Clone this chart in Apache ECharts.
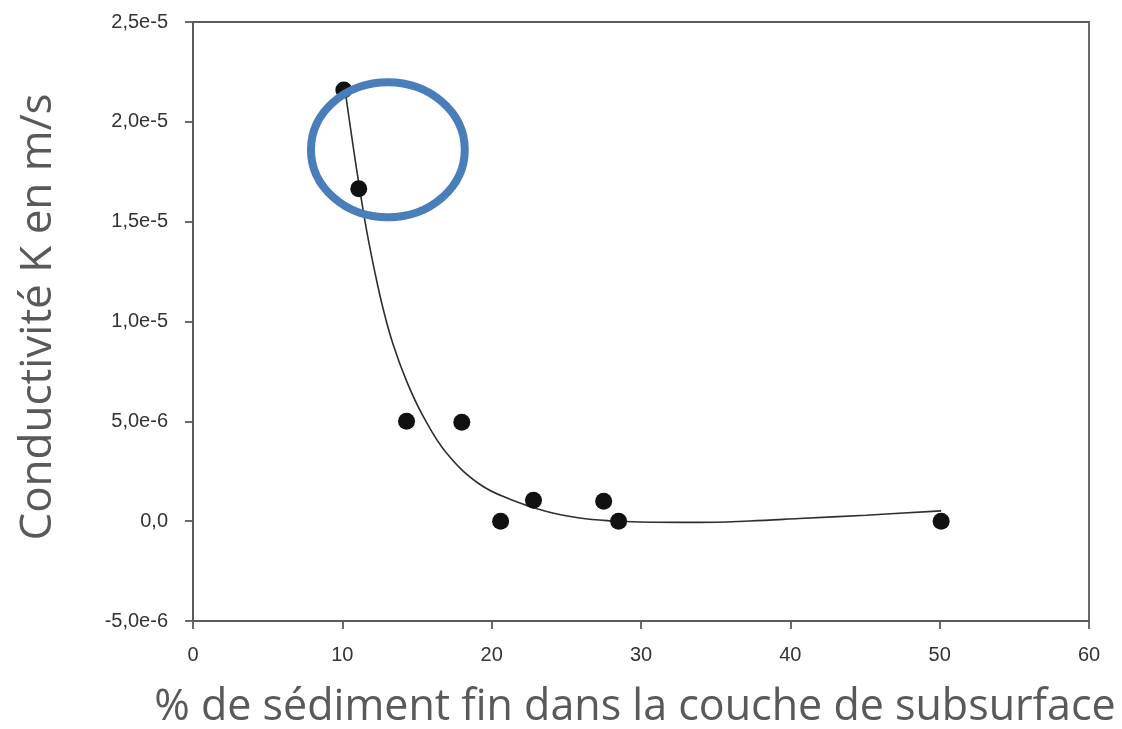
<!DOCTYPE html>
<html>
<head>
<meta charset="utf-8">
<script src="https://cdn.jsdelivr.net/npm/echarts@6/dist/echarts.min.js"></script>
<style>html,body{margin:0;padding:0;background:#fff;}#c{width:1122px;height:729px;}</style>
</head>
<body>
<div id="c"></div>
<script>
// Measured points
var pointsX = [10.1, 11.1, 14.3, 18.0, 20.6, 22.8, 27.5, 28.5, 50.1];
var pointsK = [2.16e-5, 1.665e-5, 5.0e-6, 4.95e-6, 0, 1.05e-6, 1.0e-6, 0, 0];
// Fitted curve
var curveX = [10.17, 10.70, 11.17, 11.64, 12.17, 12.71, 13.38, 14.31, 15.38, 16.99, 19.2, 21.4, 23.68, 25.89, 28.09, 29.9, 33.9, 37.26, 40.6, 45.08, 50.1];
var curveK = [2.165e-5, 1.89e-5, 1.66e-5, 1.45e-5, 1.25e-5, 1.07e-5, 8.9e-6, 7.0e-6, 5.3e-6, 3.4e-6, 1.85e-6, 1.05e-6, 4.8e-7, 1.6e-7, 1e-8, -4e-8, -6e-8, 1e-8, 1.3e-7, 3e-7, 5.15e-7];
// Axis ticks
var xTicks = [0, 10, 20, 30, 40, 50, 60];
var yTickValues = [-5e-6, 0, 5e-6, 1e-5, 1.5e-5, 2e-5, 2.5e-5];
var yTickLabels = ['-5,0e-6', '0,0', '5,0e-6', '1,0e-5', '1,5e-5', '2,0e-5', '2,5e-5'];
var yTitle = 'Conductivité K en m/s';
var xTitle = '% de sédiment fin dans la couche de subsurface';
// Highlight ellipse (data units)
var ellipseCenter = [13.05, 1.86e-5];
var ellipseHalfX = 5.15;
var ellipseHalfY = 3.38e-6;

var chart = echarts.init(document.getElementById('c'));
var axisColor = '#5a5a5a';
function yLabel(v) {
  for (var i = 0; i < yTickValues.length; i++) {
    if (Math.abs(v - yTickValues[i]) < 1e-9) return yTickLabels[i];
  }
  return '';
}
var option = {
  backgroundColor: '#fff',
  animation: false,
  grid: { left: 193, right: 33, top: 22, bottom: 108, show: true, borderColor: axisColor, borderWidth: 1.8 },
  xAxis: {
    type: 'value', min: xTicks[0], max: xTicks[xTicks.length - 1], interval: 10,
    axisLine: { show: true, onZero: false, lineStyle: { color: axisColor, width: 1.8 } },
    axisTick: { show: true, inside: false, length: 8, lineStyle: { color: axisColor, width: 1.8 } },
    axisLabel: { color: '#333', fontSize: 20, fontFamily: 'Liberation Sans, Arial', margin: 24 },
    splitLine: { show: false }
  },
  yAxis: {
    type: 'value', min: -5e-6, max: 2.5e-5, interval: 5e-6,
    axisLine: { show: true, onZero: false, lineStyle: { color: axisColor, width: 1.8 } },
    axisTick: { show: true, inside: false, length: 8, lineStyle: { color: axisColor, width: 1.8 } },
    axisLabel: { color: '#333', fontSize: 20, fontFamily: 'Liberation Sans, Arial', margin: 25, formatter: yLabel },
    splitLine: { show: false }
  },
  series: [
    {
      type: 'line', smooth: 0.4, symbol: 'none',
      data: curveX.map(function (x, i) { return [x, curveK[i]]; }),
      lineStyle: { color: '#2e2e2e', width: 1.6 }, z: 2
    },
    {
      type: 'scatter', symbol: 'circle', symbolSize: 17,
      data: pointsX.map(function (x, i) { return [x, pointsK[i]]; }),
      itemStyle: { color: '#111', opacity: 1 }, z: 3
    }
  ]
};
chart.setOption(option);

var c = chart.convertToPixel({ gridIndex: 0 }, ellipseCenter);
var e1 = chart.convertToPixel({ gridIndex: 0 }, [ellipseCenter[0] + ellipseHalfX, ellipseCenter[1] + ellipseHalfY]);
chart.setOption({
  graphic: [
    {
      type: 'ellipse', shape: { cx: c[0], cy: c[1], rx: Math.abs(e1[0] - c[0]), ry: Math.abs(c[1] - e1[1]) },
      style: { fill: 'none', stroke: '#4a7ebb', lineWidth: 8 }, z: 100
    },
    {
      type: 'text', x: 38, y: 317, rotation: Math.PI / 2, z: 100,
      style: { text: yTitle, fill: '#595959', font: '44px "Open Sans", sans-serif', textAlign: 'center', textVerticalAlign: 'middle' }
    },
    {
      type: 'text', x: 635, y: 708, z: 100,
      style: { text: xTitle, fill: '#595959', font: '43px "Open Sans", sans-serif', textAlign: 'center', textVerticalAlign: 'middle' }
    }
  ]
});
</script>
</body>
</html>
